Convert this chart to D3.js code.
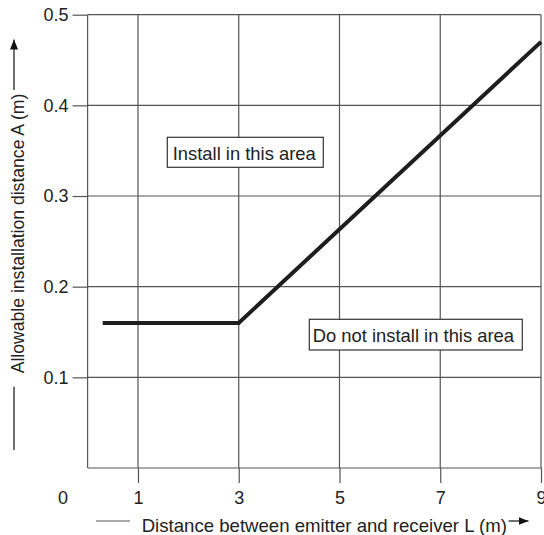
<!DOCTYPE html>
<html>
<head>
<meta charset="utf-8">
<script src="https://cdn.jsdelivr.net/npm/d3@7"></script>
<style>
  html, body { margin: 0; padding: 0; background: #fff; }
  svg { display: block; font-family: "Liberation Sans", Arial, Helvetica, sans-serif; }
</style>
</head>
<body>
<svg id="chart" width="544" height="535"></svg>
<script>
// Data
const distanceL = [0.3, 3, 9];
const allowableA = [0.16, 0.16, 0.47];
const xTicks = [1, 3, 5, 7, 9];
const yTicks = [0.1, 0.2, 0.3, 0.4, 0.5];
const xTickLabels = ["1", "3", "5", "7", "9"];
const yTickLabels = ["0.1", "0.2", "0.3", "0.4", "0.5"];
const originLabel = "0";
const xTitle = "Distance between emitter and receiver L (m)";
const yTitle = "Allowable installation distance A (m)";
const areaLabels = ["Install in this area", "Do not install in this area"];

const svg = d3.select("#chart");
const x = d3.scaleLinear().domain([0, 9]).range([87.6, 541]);
const y = d3.scaleLinear().domain([0, 0.5]).range([468, 14.7]);

const gridColor = "#555";
const textColor = "#222";

// Grid: vertical lines
const g = svg.append("g");
g.selectAll("line.vg").data([0].concat(xTicks)).enter().append("line")
  .attr("x1", d => x(d)).attr("x2", d => x(d))
  .attr("y1", y(0.5)).attr("y2", y(0))
  .attr("stroke", gridColor).attr("stroke-width", 1.2);
// Grid: horizontal lines
g.selectAll("line.hg").data([0].concat(yTicks)).enter().append("line")
  .attr("x1", x(0)).attr("x2", x(9))
  .attr("y1", d => y(d)).attr("y2", d => y(d))
  .attr("stroke", gridColor).attr("stroke-width", 1.2);

// Axes (ticks + labels)
const xAxis = d3.axisBottom(x).tickValues(xTicks)
  .tickFormat((d, i) => xTickLabels[i]).tickSize(15).tickPadding(8);
const gx = svg.append("g").attr("transform", `translate(0,${y(0)})`).call(xAxis);
gx.select(".domain").remove();
gx.selectAll(".tick line").attr("stroke", gridColor).attr("stroke-width", 1.2);
gx.selectAll(".tick text").attr("font-size", "18px").attr("fill", textColor)
  .attr("font-family", "Liberation Sans, Arial, sans-serif");

const yAxis = d3.axisLeft(y).tickValues(yTicks)
  .tickFormat((d, i) => yTickLabels[i]).tickSize(15).tickPadding(4);
const gy = svg.append("g").attr("transform", `translate(${x(0)},0)`).call(yAxis);
gy.select(".domain").remove();
gy.selectAll(".tick line").attr("stroke", gridColor).attr("stroke-width", 1.2);
gy.selectAll(".tick text").attr("font-size", "18px").attr("fill", textColor)
  .attr("font-family", "Liberation Sans, Arial, sans-serif");

// Origin label
svg.append("text").attr("x", 63).attr("y", 503.5).attr("text-anchor", "middle")
  .attr("font-size", "18px").attr("fill", textColor).text(originLabel);

// Data line
const pts = distanceL.map((d, i) => [d, allowableA[i]]);
svg.append("path").datum(pts)
  .attr("d", d3.line().x(d => x(d[0])).y(d => y(d[1])))
  .attr("fill", "none").attr("stroke", "#1e1e1e").attr("stroke-width", 4)
  .attr("stroke-linejoin", "miter");

// Area labels with boxes
function boxLabel(txt, bx, by, bw, bh, tx, ty) {
  svg.append("rect").attr("x", bx).attr("y", by).attr("width", bw).attr("height", bh)
    .attr("fill", "#fff").attr("stroke", "#333").attr("stroke-width", 1.2);
  svg.append("text").attr("x", tx).attr("y", ty).attr("font-size", "18.4px")
    .attr("fill", textColor).text(txt);
}
boxLabel(areaLabels[0], 167.3, 137.3, 156, 30, 172.7, 159.5);
boxLabel(areaLabels[1], 309.3, 319.3, 213, 30.7, 312.7, 341.5);

// Arrow marker
svg.append("defs").append("marker").attr("id", "arr")
  .attr("viewBox", "0 0 10 10").attr("refX", 10).attr("refY", 5)
  .attr("markerWidth", 10).attr("markerHeight", 10)
  .attr("markerUnits", "userSpaceOnUse").attr("orient", "auto")
  .append("path").attr("d", "M0,1 L10,5 L0,9 Z").attr("fill", "#111");

// X title
svg.append("line").attr("x1", 96).attr("x2", 130).attr("y1", 521).attr("y2", 521)
  .attr("stroke", "#555").attr("stroke-width", 1.2);
svg.append("text").attr("x", 141.7).attr("y", 531.5).attr("font-size", "18.6px")
  .attr("fill", textColor).text(xTitle);
svg.append("line").attr("x1", 508.5).attr("x2", 528.5).attr("y1", 521).attr("y2", 521)
  .attr("stroke", "#111").attr("stroke-width", 1.2).attr("marker-end", "url(#arr)");

// Y title
svg.append("line").attr("x1", 14).attr("x2", 14).attr("y1", 386.7).attr("y2", 450)
  .attr("stroke", "#111").attr("stroke-width", 1.2);
svg.append("text").attr("transform", "translate(23.5,373.3) rotate(-90)")
  .attr("font-size", "17.6px").attr("fill", textColor).text(yTitle);
svg.append("line").attr("x1", 14).attr("x2", 14).attr("y1", 90).attr("y2", 39.5)
  .attr("stroke", "#111").attr("stroke-width", 1.2).attr("marker-end", "url(#arr)");
</script>
</body>
</html>
